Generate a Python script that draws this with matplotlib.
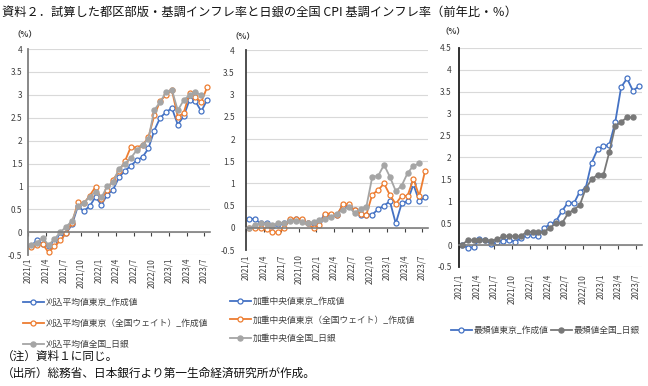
import numpy as np
import matplotlib
matplotlib.use("Agg")
import matplotlib.pyplot as plt

plt.rcParams['font.family'] = ['Noto Sans CJK JP', 'DejaVu Sans']

# x軸ラベル (3か月ごと)
tick_labels = ['2021/1', '2021/4', '2021/7', '2021/10', '2022/1', '2022/4',
               '2022/7', '2022/10', '2023/1', '2023/4', '2023/7']

# 刈込平均値 (2021/1 - 2023/7)
trim_tokyo = [-0.30, -0.18, -0.25, -0.31, -0.24, -0.11, -0.02, 0.17, 0.57, 0.46,
              0.57, 0.77, 0.60, 0.82, 0.93, 1.20, 1.34, 1.45, 1.57, 1.64,
              1.83, 2.22, 2.50, 2.62, 2.71, 2.35, 2.53, 2.89, 2.86, 2.64, 2.89]
trim_tokyo_nw = [-0.33, -0.28, -0.26, -0.44, -0.31, -0.18, -0.02, 0.21, 0.65, 0.63,
                 0.80, 0.99, 0.72, 0.93, 1.15, 1.33, 1.55, 1.86, 1.85, 1.90,
                 2.07, 2.55, 2.86, 3.00, 3.10, 2.52, 2.60, 3.04, 2.95, 2.84, 3.17]
trim_boj = [-0.28, -0.23, -0.12, -0.28, -0.15, 0.00, 0.12, 0.25, 0.58, 0.63,
            0.78, 0.88, 0.76, 1.00, 1.10, 1.39, 1.50, 1.62, 1.79, 1.90,
            2.04, 2.67, 2.84, 3.06, 3.11, 2.66, 2.88, 3.00, 3.06, 2.99]

# 加重中央値
med_tokyo = [0.20, 0.20, 0.10, 0.10, 0.05, 0.08, 0.10, 0.18, 0.20, 0.18,
             0.10, 0.10, 0.15, 0.30, 0.30, 0.30, 0.50, 0.50, 0.40, 0.30,
             0.30, 0.30, 0.42, 0.50, 0.60, 0.10, 0.55, 0.60, 0.98, 0.60, 0.70]
med_tokyo_nw = [-0.01, 0.00, 0.00, -0.02, -0.10, -0.10, -0.01, 0.20, 0.21, 0.20,
                0.10, -0.01, 0.06, 0.32, 0.32, 0.29, 0.53, 0.53, 0.40, 0.31,
                0.30, 0.75, 0.85, 1.00, 0.74, 0.54, 0.72, 0.72, 1.10, 0.72, 1.29]
med_boj = [0.00, 0.06, 0.10, 0.08, 0.06, 0.10, 0.11, 0.16, 0.16, 0.14,
           0.11, 0.13, 0.17, 0.20, 0.25, 0.32, 0.41, 0.47, 0.34, 0.43,
           0.48, 1.15, 1.17, 1.42, 1.15, 0.83, 0.95, 1.23, 1.40, 1.45]

# 最頻値
mode_tokyo = [0.00, -0.06, -0.05, 0.13, 0.12, 0.02, 0.08, 0.10, 0.12, 0.08,
              0.15, 0.22, 0.23, 0.20, 0.40, 0.47, 0.55, 0.78, 0.97, 0.95,
              1.22, 1.30, 1.88, 2.18, 2.25, 2.29, 2.80, 3.60, 3.80, 3.52, 3.62]
mode_boj = [0.00, 0.11, 0.11, 0.11, 0.11, 0.10, 0.13, 0.20, 0.20, 0.20,
            0.20, 0.30, 0.30, 0.30, 0.30, 0.40, 0.50, 0.50, 0.72, 0.81,
            0.91, 1.29, 1.50, 1.60, 1.60, 2.12, 2.71, 2.81, 2.91, 2.91]

BLUE = '#4472C4'
ORANGE = '#ED7D31'
GRAY = '#A5A5A5'
DGRAY = '#787878'
TXT = '#404040'

fig = plt.figure(figsize=(6.48, 3.86), dpi=100)


def open_line(ax, y, color, label):
    x = np.arange(len(y)) + 0.5
    ax.plot(x, y, color=color, lw=1.3, marker='o', ms=3.6, mfc='white',
            mec=color, mew=0.9, label=label)


def fill_line(ax, y, color, label):
    x = np.arange(len(y)) + 0.5
    ax.plot(x, y, color=color, lw=1.3, marker='o', ms=3.6, mfc=color,
            mec=color, label=label)


def setup(ax, ymax, spine_color, ypad, xpad):
    ax.set_xlim(0, 31)
    ax.set_ylim(-0.5, ymax)
    yt = np.arange(-0.5, ymax + 0.01, 0.5)
    ax.set_yticks(yt, ['%g' % v for v in yt])
    ax.tick_params(axis='y', length=0, labelsize=6, pad=ypad, labelcolor=TXT)
    ax.yaxis.grid(True, color='#D9D9D9', lw=0.8)
    ax.set_axisbelow(True)
    for s in ['top', 'right']:
        ax.spines[s].set_visible(False)
    ax.spines['left'].set_color(spine_color)
    ax.spines['left'].set_linewidth(1.3)
    # 0%のカテゴリ軸
    ax.spines['bottom'].set_position(('data', 0))
    ax.spines['bottom'].set_color('#7F7F7F')
    ax.spines['bottom'].set_linewidth(1.2)
    ax.set_xticks(np.arange(0, 31, 3))
    ax.tick_params(axis='x', direction='out', length=3, width=0.8,
                   color='#404040', labelbottom=False)
    sec = ax.secondary_xaxis('bottom')
    sec.set_xticks(np.arange(0, 31, 3), tick_labels, rotation=90)
    sec.tick_params(length=0, labelsize=5.8, pad=xpad, labelcolor=TXT)
    sec.spines['bottom'].set_visible(False)


# 左: 刈込平均値
ax1 = fig.add_axes([0.0432, 0.339, 0.281, 0.534])
open_line(ax1, trim_tokyo, BLUE, '刈込平均値東京_作成値')
open_line(ax1, trim_tokyo_nw, ORANGE, '刈込平均値東京（全国ウェイト）_作成値')
fill_line(ax1, trim_boj, GRAY, '刈込平均値全国_日銀')
setup(ax1, 4, '#7F7F7F', 4, 2)
ax1.legend(loc='upper left', bbox_to_anchor=(0.03, 0.237), bbox_transform=fig.transFigure,
           frameon=False, fontsize=6.3, handlelength=2.4, labelspacing=1.35,
           handletextpad=0.2, borderaxespad=0, labelcolor=TXT)
fig.text(0.02, 0.905, '（%）', fontsize=6, fontweight='bold', color=TXT)

# 中: 加重中央値
ax2 = fig.add_axes([0.3796, 0.352, 0.281, 0.518])
open_line(ax2, med_tokyo, BLUE, '加重中央値東京_作成値')
open_line(ax2, med_tokyo_nw, ORANGE, '加重中央値東京（全国ウェイト）_作成値')
fill_line(ax2, med_boj, GRAY, '加重中央値全国_日銀')
setup(ax2, 4, '#404040', 8, 3)
ax2.legend(loc='upper left', bbox_to_anchor=(0.349, 0.24), bbox_transform=fig.transFigure,
           frameon=False, fontsize=6.3, handlelength=2.4, labelspacing=1.1,
           handletextpad=0.2, borderaxespad=0, labelcolor=TXT)
fig.text(0.355, 0.9, '（%）', fontsize=6, fontweight='bold', color=TXT)

# 右: 最頻値
ax3 = fig.add_axes([0.708, 0.3083, 0.2824, 0.568])
open_line(ax3, mode_tokyo, BLUE, '最頻値東京_作成値')
fill_line(ax3, mode_boj, DGRAY, '最頻値全国_日銀')
setup(ax3, 4.5, '#202020', 5, 5)
ax3.legend(loc='upper left', bbox_to_anchor=(0.69, 0.165), bbox_transform=fig.transFigure,
           frameon=False, fontsize=6.3, handlelength=2.4, ncol=2, columnspacing=0.3,
           handletextpad=0.2, borderaxespad=0, labelcolor=TXT)
fig.text(0.68, 0.915, '（%）', fontsize=6, fontweight='bold', color=TXT)

fig.text(0.003, 0.968, '資料２．試算した都区部版・基調インフレ率と日銀の全国 CPI 基調インフレ率（前年比・％）',
         fontsize=8.8, va='center', color='#111111')
fig.text(0.003, 0.078, '（注）資料１に同じ。', fontsize=8.4, va='center', color='#111111')
fig.text(0.003, 0.032, '（出所）総務省、日本銀行より第一生命経済研究所が作成。', fontsize=8.4,
         va='center', color='#111111')

fig.savefig('out.png', dpi=100)
